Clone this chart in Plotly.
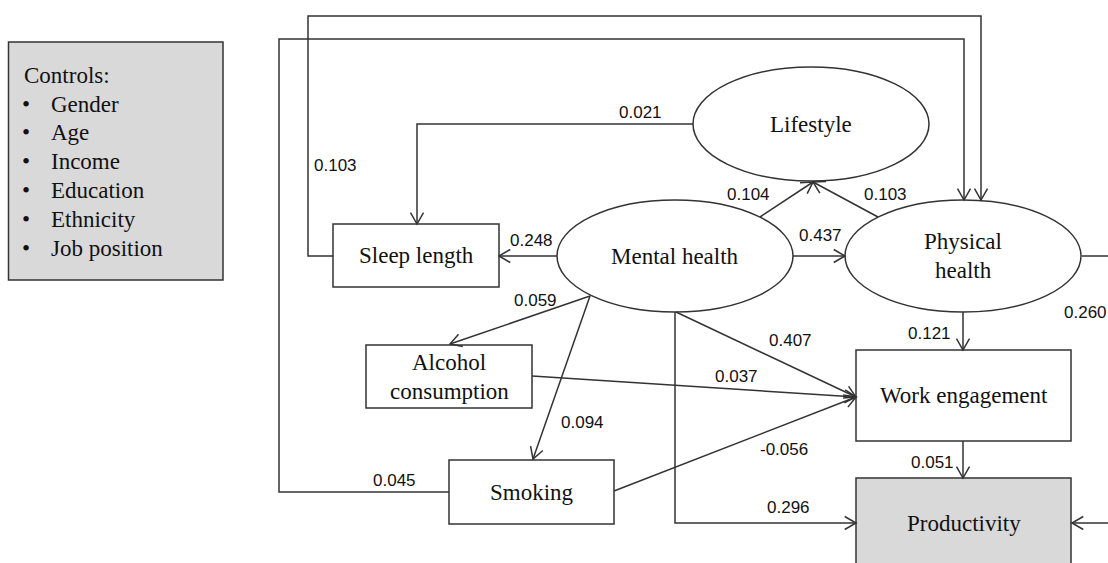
import math
import plotly.graph_objects as go

# ---------------- data ----------------
node_names = ["Lifestyle", "Mental health", "Physical health", "Sleep length",
              "Alcohol consumption", "Smoking", "Work engagement", "Productivity"]
node_text = ["Lifestyle", "Mental health", "Physical\nhealth", "Sleep length",
             "Alcohol\nconsumption", "Smoking", "Work engagement", "Productivity"]
control_title = "Controls:"
control_items = ["Gender", "Age", "Income", "Education", "Ethnicity", "Job position"]

path_from = ["Lifestyle", "Mental health", "Mental health", "Physical health",
             "Mental health", "Sleep length", "Smoking", "Mental health",
             "Mental health", "Mental health", "Alcohol consumption", "Smoking",
             "Mental health", "Physical health", "Work engagement", "Physical health"]
path_to = ["Sleep length", "Sleep length", "Lifestyle", "Lifestyle",
           "Physical health", "Physical health", "Physical health", "Alcohol consumption",
           "Smoking", "Work engagement", "Work engagement", "Work engagement",
           "Productivity", "Work engagement", "Productivity", "Productivity"]
path_coefs = [0.021, 0.248, 0.104, 0.103,
              0.437, 0.103, 0.045, 0.059,
              0.094, 0.407, 0.037, -0.056,
              0.296, 0.121, 0.051, 0.260]

# ---------------- layout geometry (pixels) ----------------
W, H = 1108, 563
node_geom = {
    "Lifestyle": ("ellipse", 811, 124, 118, 57),
    "Mental health": ("ellipse", 675, 256, 118, 56),
    "Physical health": ("ellipse", 963, 256, 118, 56),
    "Sleep length": ("rect", 333, 224, 499, 287),
    "Alcohol consumption": ("rect", 366, 345, 532, 408),
    "Smoking": ("rect", 449, 460, 614, 524),
    "Work engagement": ("rect", 856, 350, 1071, 441),
    "Productivity": ("rect", 856, 478, 1071, 590),
}
node_fill = {"Productivity": "#d9d9d9"}

# routing of each path (same order as path_coefs) and label anchor
path_routes = [
    [(693, 124), (417, 124), (417, 224)],
    [(557, 256), (499, 256)],
    [(760, 217), (813, 182)],
    [(878, 217), (813, 182)],
    [(793, 256), (845, 256)],
    [(333, 256), (308, 256), (308, 16), (981, 16), (981, 200)],
    [(449, 492), (279, 492), (279, 39), (964, 39), (964, 200)],
    [(590, 296), (450, 344)],
    [(590, 296), (533, 459)],
    [(676, 312), (856, 397)],
    [(532, 376), (856, 397)],
    [(614, 491), (856, 397)],
    [(675, 312), (675, 523), (856, 523)],
    [(963, 312), (963, 350)],
    [(963, 441), (963, 478)],
    [(1082, 256), (1140, 256), (1140, 523), (1072, 523)],
]
label_pos = [
    (640, 112), (531, 240), (748, 194), (885, 194),
    (820, 235), (335, 165), (394, 480), (535, 300),
    (582, 422), (790, 340), (736, 376), (784, 449),
    (788, 507), (929, 333), (932, 462), (1085, 312),
]

LINE = "#333333"
LW = 1.5
SERIF = "Liberation Serif, Times New Roman, serif"
SANS = "Liberation Sans, Arial, sans-serif"
FS_NODE = 23
FS_COEF = 17

fig = go.Figure()
fig.add_trace(go.Scatter(x=[0, W], y=[0, H], mode="markers",
                         marker=dict(opacity=0), hoverinfo="skip", showlegend=False))

shapes = []
annotations = []

# legend box
shapes.append(dict(type="rect", xref="x", yref="y", x0=8.5, y0=42, x1=223, y1=280,
                   fillcolor="#d9d9d9", line=dict(color=LINE, width=LW), layer="above"))
annotations.append(dict(x=22, y=75, text=control_title, showarrow=False, xanchor="left",
                        yanchor="middle", font=dict(family=SERIF, size=FS_NODE, color="#111")))
for i, item in enumerate(control_items):
    yy = 104 + i * 28.8
    annotations.append(dict(x=20, y=yy, text="•", showarrow=False, xanchor="left",
                            yanchor="middle", font=dict(family=SERIF, size=FS_NODE, color="#111")))
    annotations.append(dict(x=49, y=yy, text=item, showarrow=False, xanchor="left",
                            yanchor="middle", font=dict(family=SERIF, size=FS_NODE, color="#111")))

# nodes
for name, txt in zip(node_names, node_text):
    g = node_geom[name]
    if g[0] == "ellipse":
        _, cx, cy, rx, ry = g
        shapes.append(dict(type="circle", xref="x", yref="y", x0=cx - rx, x1=cx + rx,
                           y0=cy - ry, y1=cy + ry, fillcolor="white",
                           line=dict(color=LINE, width=LW), layer="above"))
    else:
        _, x0, y0, x1, y1 = g
        cx = (x0 + x1) / 2
        cy = (y0 + y1) / 2 if name != "Productivity" else 523
        shapes.append(dict(type="rect", xref="x", yref="y", x0=x0, x1=x1, y0=y0, y1=y1,
                           fillcolor=node_fill.get(name, "white"),
                           line=dict(color=LINE, width=LW), layer="above"))
    lines = txt.split("\n")
    n = len(lines)
    for k, ln in enumerate(lines):
        yy = cy + (k - (n - 1) / 2) * 29
        annotations.append(dict(x=cx, y=yy, text=ln, showarrow=False, xanchor="center",
                                yanchor="middle", font=dict(family=SERIF, size=FS_NODE, color="#111")))


def arrow_head(p_prev, tip, length=13, ang=30):
    dx, dy = tip[0] - p_prev[0], tip[1] - p_prev[1]
    d = math.hypot(dx, dy)
    ux, uy = dx / d, dy / d
    pts = []
    for s in (-1, 1):
        a = math.radians(ang) * s
        bx = -ux * math.cos(a) + uy * math.sin(a)
        by = -uy * math.cos(a) - ux * math.sin(a)
        pts.append((tip[0] + bx * length, tip[1] + by * length))
    return "M {} {} L {} {} L {} {}".format(pts[0][0], pts[0][1], tip[0], tip[1],
                                            pts[1][0], pts[1][1])


for route, coef, lp in zip(path_routes, path_coefs, label_pos):
    p = "M " + " L ".join("{} {}".format(x, y) for x, y in route)
    shapes.append(dict(type="path", xref="x", yref="y", path=p,
                       line=dict(color=LINE, width=LW), layer="above"))
    shapes.append(dict(type="path", xref="x", yref="y", path=arrow_head(route[-2], route[-1]),
                       line=dict(color=LINE, width=LW), layer="above"))
    annotations.append(dict(x=lp[0], y=lp[1], text="{:.3f}".format(coef), showarrow=False,
                            xanchor="center", yanchor="middle",
                            font=dict(family=SANS, size=FS_COEF, color="#111")))

fig.update_layout(
    width=W, height=H,
    margin=dict(l=0, r=0, t=0, b=0),
    paper_bgcolor="white", plot_bgcolor="white",
    xaxis=dict(range=[0, W], visible=False, fixedrange=True),
    yaxis=dict(range=[H, 0], visible=False, fixedrange=True),
    shapes=shapes, annotations=annotations, showlegend=False,
)
fig.write_html(
    "out.html",
    config={"displayModeBar": False},
    post_script="document.body.style.margin='0';document.body.style.overflow='hidden';",
)
